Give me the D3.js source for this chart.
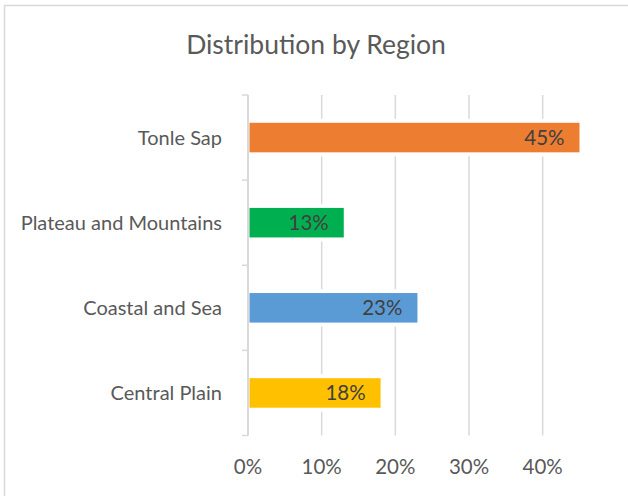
<!DOCTYPE html>
<html>
<head>
<meta charset="utf-8">
<script src="https://cdn.jsdelivr.net/npm/d3@7"></script>
<style>
  html, body { margin: 0; padding: 0; background: #fff; }
  svg { display: block; font-family: Lato, "Open Sans", sans-serif; }
</style>
</head>
<body>
<svg id="chart" width="628" height="496"></svg>
<script>
// Share of sites per region
const titleText = "Distribution by Region";
const regions = ["Tonle Sap", "Plateau and Mountains", "Coastal and Sea", "Central Plain"];
const shares = [45, 13, 23, 18];
const barColors = ["#ED7D31", "#00B050", "#5B9BD5", "#FFC000"];
const xTicks = [0, 10, 20, 30, 40];

const svg = d3.select("#chart");
const W = 628, H = 496;
const plot = { left: 248, right: 579.5, top: 95, bottom: 435.5 };

// Chart frame
svg.append("rect")
  .attr("x", 4.5).attr("y", 5.5)
  .attr("width", W + 10).attr("height", H + 10)
  .attr("fill", "#fff").attr("stroke", "#d9d9d9").attr("stroke-width", 1.5);

svg.append("text")
  .attr("x", W / 2 + 2).attr("y", 53.5)
  .attr("text-anchor", "middle")
  .attr("font-size", 26.5)
  .attr("fill", "#595959")
  .text(titleText);

const x = d3.scaleLinear().domain([0, 45]).range([plot.left, plot.right]);
const barFrac = 0.347;
const y = d3.scaleBand().domain(regions).range([plot.top, plot.bottom])
  .paddingInner(1 - barFrac).paddingOuter((1 - barFrac) / 2);
const step = y.step();

// Vertical gridlines
svg.append("g").selectAll("line").data(xTicks.filter(d => d > 0)).join("line")
  .attr("x1", d => x(d)).attr("x2", d => x(d))
  .attr("y1", plot.top).attr("y2", plot.bottom)
  .attr("stroke", "#d9d9d9").attr("stroke-width", 1.5);

// Bars with a thin white halo over the gridlines
const bars = svg.append("g");
bars.selectAll("rect.halo").data(regions).join("rect")
  .attr("class", "halo")
  .attr("x", x(0) + 1)
  .attr("y", d => y(d) - 4)
  .attr("width", (d, i) => x(shares[i]) - x(0) - 1)
  .attr("height", y.bandwidth() + 8)
  .attr("fill", "#fff");
bars.selectAll("rect.bar").data(regions).join("rect")
  .attr("class", "bar")
  .attr("x", x(0) + 1.5)
  .attr("y", d => y(d))
  .attr("width", (d, i) => x(shares[i]) - x(0) - 1.5)
  .attr("height", y.bandwidth())
  .attr("fill", (d, i) => barColors[i]);

// Value labels at the inside end
bars.selectAll("text").data(regions).join("text")
  .attr("x", (d, i) => x(shares[i]) - 15)
  .attr("y", d => y(d) + y.bandwidth() / 2)
  .attr("dy", "0.36em")
  .attr("text-anchor", "end")
  .attr("font-size", 20.5)
  .attr("fill", "#404040")
  .text((d, i) => shares[i] + "%");

// Category axis
const axisG = svg.append("g");
axisG.append("line")
  .attr("x1", plot.left).attr("x2", plot.left)
  .attr("y1", plot.top).attr("y2", plot.bottom)
  .attr("stroke", "#d9d9d9").attr("stroke-width", 2);
const bounds = regions.map(r => y(r) - (step - y.bandwidth()) / 2);
bounds.push(plot.bottom);
axisG.selectAll("line.tick").data(bounds).join("line")
  .attr("class", "tick")
  .attr("x1", plot.left - 6).attr("x2", plot.left)
  .attr("y1", d => d).attr("y2", d => d)
  .attr("stroke", "#d9d9d9").attr("stroke-width", 1.5);
axisG.selectAll("text").data(regions).join("text")
  .attr("x", 222)
  .attr("y", d => y(d) + y.bandwidth() / 2)
  .attr("dy", "0.36em")
  .attr("text-anchor", "end")
  .attr("font-size", 20)
  .attr("fill", "#595959")
  .text(d => d);

// Value axis labels
svg.append("g").selectAll("text").data(xTicks).join("text")
  .attr("x", d => x(d))
  .attr("y", 474)
  .attr("text-anchor", "middle")
  .attr("font-size", 20.5)
  .attr("fill", "#595959")
  .text(d => d + "%");
</script>
</body>
</html>
